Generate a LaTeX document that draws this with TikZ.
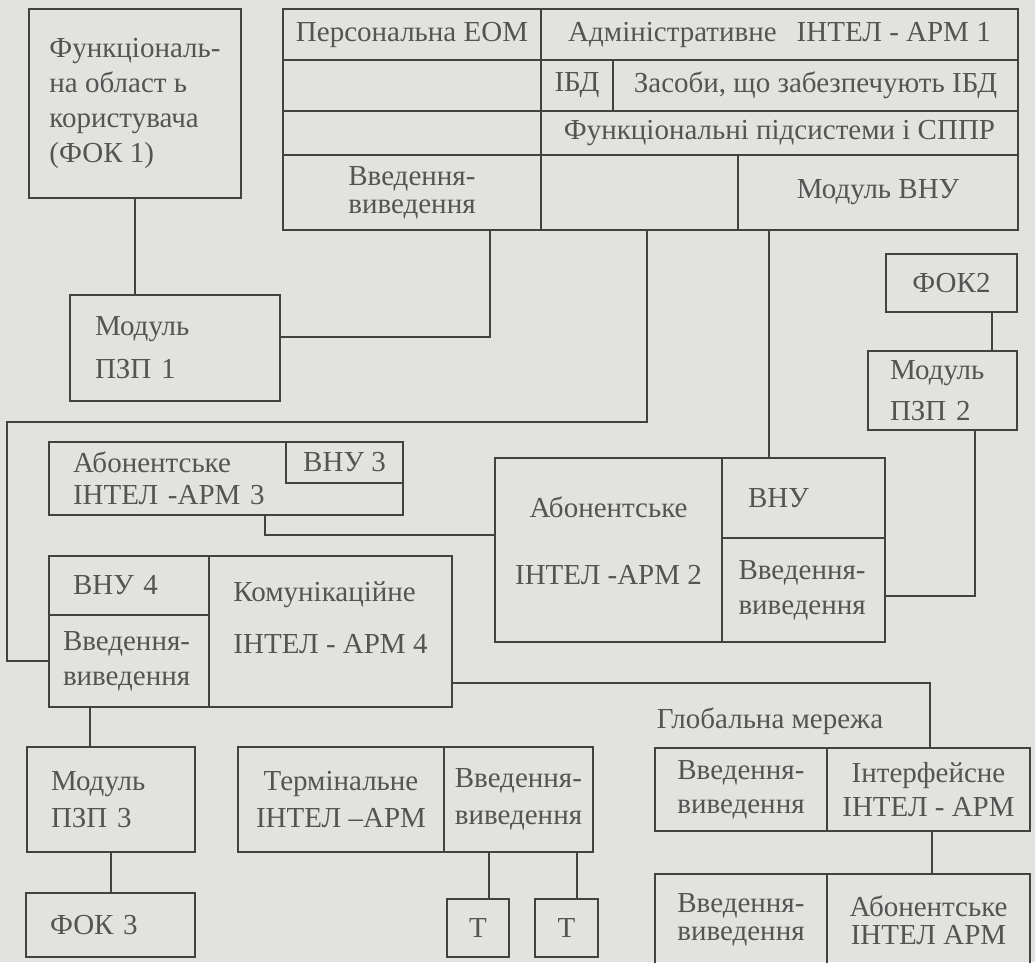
\documentclass[tikz,border=0pt]{standalone}
\usepackage{fontspec}
\setmainfont{Liberation Serif}
\usepackage{tikz}
\usetikzlibrary{positioning}

\definecolor{paper}{RGB}{226,227,223}
\definecolor{linegray}{RGB}{66,66,66}
\definecolor{inkgray}{RGB}{84,84,84}

\tikzset{
    cell/.style 2 args={draw=linegray, line width=1.6pt, minimum width=#1, minimum height=#2,
        inner sep=0pt, outer sep=0pt, text=inkgray, align=center},
    lcell/.style={align=left, text width=#1},
    wire/.style={draw=linegray, line width=1.6pt},
}

\begin{document}
\begin{tikzpicture}[x=1pt, y=-1pt, font=\fontsize{29}{34}\selectfont]
    \path[use as bounding box, fill=paper] (0,0) rectangle (1035,962);

    % ARM 1
    \node[cell={258pt}{51pt}, anchor=north west] (peom) at (283,9) {Персональна ЕОМ};
    \node[cell={477pt}{51pt}, right=0pt of peom] (arm1) {Адміністративне\hspace{20pt}ІНТЕЛ - АРМ 1};
    \node[cell={258pt}{51pt}, below=0pt of peom] (r2a) {};
    \node[cell={72pt}{51pt}, right=0pt of r2a] (ibd) {ІБД};
    \node[cell={405pt}{51pt}, right=0pt of ibd] (zas) {Засоби, що забезпечують ІБД};
    \node[cell={258pt}{44pt}, below=0pt of r2a] (r3a) {};
    \node[cell={477pt}{44pt}, right=0pt of r3a] (fps) {Функціональні підсистеми і СППР};
    \node[cell={258pt}{75pt}, below=0pt of r3a, align=left] (vv1) {Введення-\\[-6pt]виведення};
    \node[cell={197pt}{75pt}, right=0pt of vv1] (r4b) {};
    \node[cell={280pt}{75pt}, right=0pt of r4b] (mvnu) {Модуль ВНУ};

    \node[cell={212pt}{189pt}, anchor=north west, align=left] (fok1) at (29,9)
        {Функціональ-\\[1pt]на област ь\\[1pt]користувача\\[1pt](ФОК 1)};
    \node[cell={210pt}{106pt}, anchor=north west, lcell=160pt] (pzp1) at (70,295) {Модуль\\[9pt]ПЗП 1};

    \node[cell={131pt}{58pt}, anchor=north west] (fok2) at (886,254) {ФОК2};
    \node[cell={149pt}{79pt}, anchor=north west, lcell=105pt] (pzp2) at (868,351) {Модуль\\[7pt]ПЗП 2};

    % ARM 3
    \node[cell={354pt}{73pt}, anchor=north west, lcell=306pt] (arm3) at (49,442) {Абонентське\\[-2pt]ІНТЕЛ -АРМ 3};
    \node[cell={117pt}{41pt}, anchor=north east] (bhy3) at (arm3.north east) {ВНУ 3};

    % ARM 2
    \node[cell={227pt}{184pt}, anchor=north west] (arm2) at (495,458) {Абонентське\\[33pt]ІНТЕЛ -АРМ 2\\[-16pt]};
    \node[cell={163pt}{80pt}, anchor=north west, lcell=111pt] (bhy2) at (arm2.north east) {ВНУ};
    \node[cell={163pt}{104pt}, below=0pt of bhy2, lcell=130pt] (vv2) {Введення-\\[1pt]виведення};

    % ARM 4
    \node[cell={160pt}{59pt}, anchor=north west, lcell=112pt] (bhy4) at (49,556) {ВНУ 4};
    \node[cell={160pt}{92pt}, below=0pt of bhy4, lcell=132pt] (vv4) {Введення-\\[1pt]виведення};
    \node[cell={243pt}{151pt}, anchor=north west, align=left] (arm4) at (bhy4.north east)
        {Комунікаційне\\[18pt]ІНТЕЛ - АРМ 4\\[-6pt]};

    \node[cell={168pt}{105pt}, anchor=north west, lcell=120pt] (pzp3) at (27,747) {Модуль\\[3pt]ПЗП 3};
    \node[cell={169pt}{64pt}, anchor=north west, lcell=121pt] (fok3) at (26,893) {ФОК 3};

    % terminal ARM
    \node[cell={206pt}{105pt}, anchor=north west] (term) at (238,747) {Термінальне\\[3pt]ІНТЕЛ –АРМ};
    \node[cell={149pt}{105pt}, right=0pt of term, align=left] (vvt) {Введення-\\[3pt]виведення};
    \node[cell={62pt}{58pt}, anchor=north west] (t1) at (447,899) {Т};
    \node[cell={63pt}{58pt}, anchor=north west] (t2) at (535,899) {Т};

    % global network
    \node[text=inkgray] (glob) at (770,721) {Глобальна мережа};
    \node[cell={172pt}{83pt}, anchor=north west, align=left] (vvg) at (655,748) {Введення-\\виведення};
    \node[cell={203pt}{83pt}, right=0pt of vvg] (ifc) {Інтерфейсне\\ІНТЕЛ - АРМ};
    \node[cell={172pt}{92pt}, anchor=north west, align=left] (vva) at (655,874) {Введення-\\[-6pt]виведення};
    \node[cell={203pt}{92pt}, right=0pt of vva] (abo) {Абонентське\\[-6pt]ІНТЕЛ АРМ};

    \coordinate (lbend) at (7,422);

    \draw[wire] (fok1.south) -- (fok1.south |- pzp1.north);
    \draw[wire] ([xshift=-51pt]vv1.south east) |- ([yshift=11pt]pzp1.east);
    \draw[wire] ([xshift=106pt]r4b.south west) |- (lbend) |- (vv4.west);
    \draw[wire] ([xshift=31pt]mvnu.south west) -- ([xshift=31pt]mvnu.south west |- bhy2.north);
    \draw[wire] ([xshift=-25pt]fok2.south east) -- ([xshift=-25pt]fok2.south east |- pzp2.north);
    \draw[wire] ([xshift=-42pt]pzp2.south east) |- ([yshift=-6pt]vv2.east);
    \draw[wire] ([xshift=216pt]arm3.south west) |- ([yshift=15pt]arm2.west);
    \draw[wire] ([yshift=24pt]arm4.south east) -| ([xshift=1.5pt]ifc.north);
    \draw[wire] ([xshift=41pt]vv4.south west) -- ([xshift=41pt]vv4.south west |- pzp3.north);
    \draw[wire] (pzp3.south) -- (pzp3.south |- fok3.north);
    \draw[wire] ([xshift=11pt]t1.north) -- ([xshift=11pt]t1.north |- vvt.south);
    \draw[wire] ([xshift=10.5pt]t2.north) -- ([xshift=10.5pt]t2.north |- vvt.south);
    \draw[wire] ([xshift=3.5pt]ifc.south) -- ([xshift=3.5pt]ifc.south |- abo.north);
\end{tikzpicture}
\end{document}
